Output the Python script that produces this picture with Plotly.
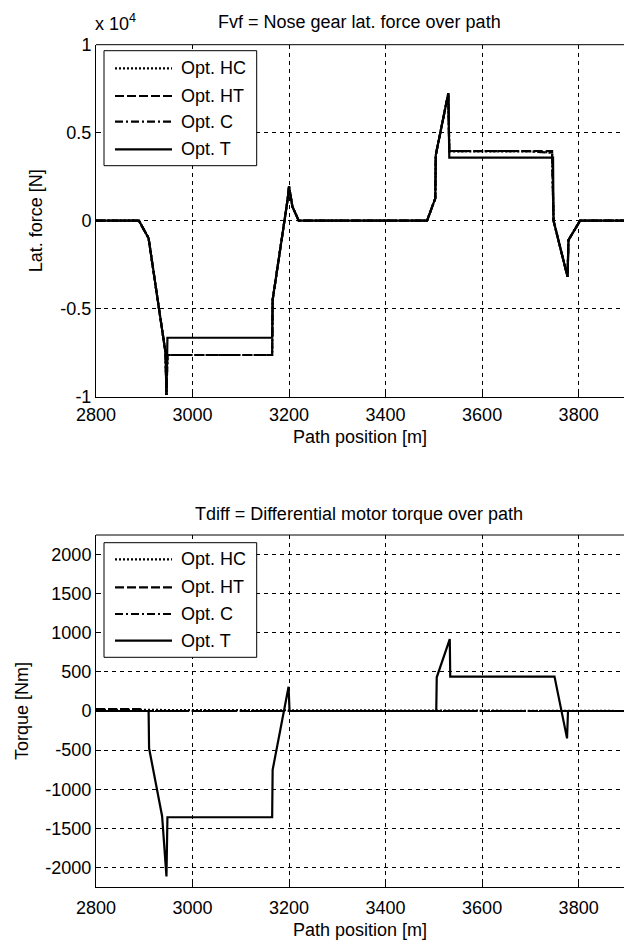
import plotly.graph_objects as go

# ---------------- data ----------------
# Top: nose gear lateral force [N] vs path position [m]
fvf_HC_x = [2800, 2889, 2909, 2944, 2946, 2948, 3165, 3166, 3197, 3200, 3207, 3220, 3486, 3503, 3504, 3530, 3532, 3700, 3745, 3748, 3777, 3779, 3803, 3895]
fvf_HC_y = [0, 0, -1000, -7500, -9900, -7630, -7630, -4500, 1200, 1950, 800, 0, 0, 1270, 3730, 7240, 3940, 3940, 3880, 0, -3180, -1100, 0, 0]
fvf_HT_x = [2800, 2889, 2909, 2944, 2946, 2948, 3165, 3166, 3197, 3200, 3207, 3220, 3486, 3503, 3504, 3530, 3532, 3745, 3748, 3777, 3779, 3803, 3895]
fvf_HT_y = [0, 0, -1000, -7500, -9900, -7630, -7630, -4500, 1200, 1950, 800, 0, 0, 1270, 3730, 7240, 3960, 3960, 0, -3180, -1100, 0, 0]
fvf_C_x = [2800, 2889, 2909, 2944, 2946, 2948, 3165, 3166, 3197, 3200, 3207, 3220, 3486, 3503, 3504, 3530, 3532, 3690, 3745, 3748, 3777, 3779, 3803, 3895]
fvf_C_y = [0, 0, -1000, -7500, -9900, -7630, -7630, -4500, 1200, 1950, 800, 0, 0, 1270, 3730, 7240, 3950, 3950, 3860, 0, -3180, -1100, 0, 0]
fvf_T_x = [2800, 2889, 2909, 2944, 2946, 2948, 3165, 3166, 3197, 3200, 3207, 3220, 3486, 3503, 3504, 3530, 3532, 3747, 3748, 3777, 3779, 3803, 3895]
fvf_T_y = [0, 0, -1000, -7500, -9900, -6650, -6650, -4500, 1200, 1950, 800, 0, 0, 1270, 3730, 7240, 3580, 3580, 0, -3180, -1100, 0, 0]

# Bottom: differential motor torque [Nm] vs path position [m]
tdiff_HC_x = [2800, 3895]
tdiff_HC_y = [15, 0]
tdiff_HT_x = [2800, 2890, 2900, 3895]
tdiff_HT_y = [25, 25, 0, 0]
tdiff_C_x = [2800, 3895]
tdiff_C_y = [0, 0]
tdiff_T_x = [2800, 2909, 2910, 2937, 2946, 2948, 3165, 3166, 3199, 3201, 3505, 3506, 3533, 3534, 3750, 3776, 3778, 3895]
tdiff_T_y = [0, 0, -477, -1345, -2114, -1358, -1358, -753, 310, 0, 0, 431, 919, 440, 440, -350, 0, 0]

series_names = ["Opt. HC", "Opt. HT", "Opt. C", "Opt. T"]
x_ticks = [2800, 3000, 3200, 3400, 3600, 3800]
fvf_ticks = [-10000, -5000, 0, 5000, 10000]
fvf_tick_text = ["-1", "-0.5", "0", "0.5", "1"]
tdiff_ticks = [-2000, -1500, -1000, -500, 0, 500, 1000, 1500, 2000]
tdiff_tick_text = ["-2000", "-1500", "-1000", "-500", "0", "500", "1000", "1500", "2000"]

# ---------------- layout helpers ----------------
W, H = 624, 941
FONT = "Liberation Sans, Arial, sans-serif"
FS = 18
dashes = ["2px,2px", "9px,3px", "8px,3px,2px,3px", "solid"]


def pxx(v):
    return v / W


def pxy(v):
    return 1 - v / H


fig = go.Figure()

top_data = [(fvf_HC_x, fvf_HC_y), (fvf_HT_x, fvf_HT_y), (fvf_C_x, fvf_C_y), (fvf_T_x, fvf_T_y)]
bot_data = [(tdiff_HC_x, tdiff_HC_y), (tdiff_HT_x, tdiff_HT_y), (tdiff_C_x, tdiff_C_y), (tdiff_T_x, tdiff_T_y)]

for (xs, ys), name, d in zip(top_data, series_names, dashes):
    fig.add_trace(go.Scatter(x=xs, y=ys, mode="lines", name=name, showlegend=False,
                             line=dict(color="black", width=2.2, dash=d), xaxis="x", yaxis="y"))
for (xs, ys), name, d in zip(bot_data, series_names, dashes):
    fig.add_trace(go.Scatter(x=xs, y=ys, mode="lines", name=name, showlegend=False,
                             line=dict(color="black", width=2.2, dash=d), xaxis="x2", yaxis="y2"))

x_left = 96
axis_common = dict(showline=True, linecolor="black", linewidth=1, ticks="inside", ticklen=5,
                   tickcolor="black", showgrid=True, gridcolor="black", gridwidth=1,
                   griddash="4px,4px", zeroline=False, automargin=False,
                   tickfont=dict(family=FONT, size=FS, color="black"))

fig.update_layout(
    template="none",
    width=W, height=H, margin=dict(l=0, r=0, t=0, b=0, pad=0),
    paper_bgcolor="white", plot_bgcolor="white",
    font=dict(family=FONT, size=FS, color="black"),
    xaxis=dict(domain=[pxx(x_left), 1], range=[2800, 3894], tickvals=x_ticks, anchor="y",
               ticklabelstandoff=2,
               title=dict(text="Path position [m]", standoff=6, font=dict(size=FS)), **axis_common),
    yaxis=dict(domain=[pxy(396.7), pxy(44.7)], range=[-10000, 10000], tickvals=fvf_ticks,
               ticktext=fvf_tick_text, anchor="x",
               title=dict(text="Lat. force [N]", standoff=13, font=dict(size=FS)), **axis_common),
    xaxis2=dict(domain=[pxx(x_left), 1], range=[2800, 3894], tickvals=x_ticks, anchor="y2",
                ticklabelstandoff=4,
                title=dict(text="Path position [m]", standoff=6, font=dict(size=FS)), **axis_common),
    yaxis2=dict(domain=[pxy(887), pxy(535)], range=[-2250, 2250], tickvals=tdiff_ticks,
                ticktext=tdiff_tick_text, anchor="x2",
                title=dict(text="Torque [Nm]", standoff=12, font=dict(size=FS)), **axis_common),
    showlegend=False,
)

shapes = []
annotations = []

# top border lines of the two axes boxes
for ytop in (44.7, 535):
    shapes.append(dict(type="line", xref="paper", yref="paper", x0=pxx(x_left), x1=1,
                       y0=pxy(ytop), y1=pxy(ytop), line=dict(color="black", width=1)))

# titles
annotations.append(dict(text="Fvf = Nose gear lat. force over path", xref="paper", yref="paper",
                        x=pxx(359), y=pxy(22), xanchor="center", yanchor="middle",
                        showarrow=False, font=dict(size=FS)))
annotations.append(dict(text="Tdiff = Differential motor torque over path", xref="paper", yref="paper",
                        x=pxx(359), y=pxy(514), xanchor="center", yanchor="middle",
                        showarrow=False, font=dict(size=FS)))
# exponent label
annotations.append(dict(text="x 10<sup>4</sup>", xref="paper", yref="paper", x=pxx(93), y=pxy(23),
                        xanchor="left", yanchor="middle", showarrow=False, font=dict(size=FS)))

# manual legends (MATLAB style)
for box_top, box_bot, rows in ((50.7, 165.7, [68.3, 96, 121.7, 149.3]),
                               (542.7, 657.3, [559.3, 587.3, 614, 640.7])):
    shapes.append(dict(type="rect", xref="paper", yref="paper", x0=pxx(104), x1=pxx(256.7),
                       y0=pxy(box_bot), y1=pxy(box_top), line=dict(color="black", width=1),
                       fillcolor="white", layer="above"))
    for ry, name, d in zip(rows, series_names, dashes):
        shapes.append(dict(type="line", xref="paper", yref="paper", x0=pxx(115), x1=pxx(172),
                           y0=pxy(ry), y1=pxy(ry), line=dict(color="black", width=2.2, dash=d),
                           layer="above"))
        annotations.append(dict(text=name, xref="paper", yref="paper", x=pxx(179), y=pxy(ry),
                                xanchor="left", yanchor="middle", showarrow=False,
                                font=dict(size=FS)))

fig.update_layout(shapes=shapes, annotations=annotations)
fig.write_html("out.html")
